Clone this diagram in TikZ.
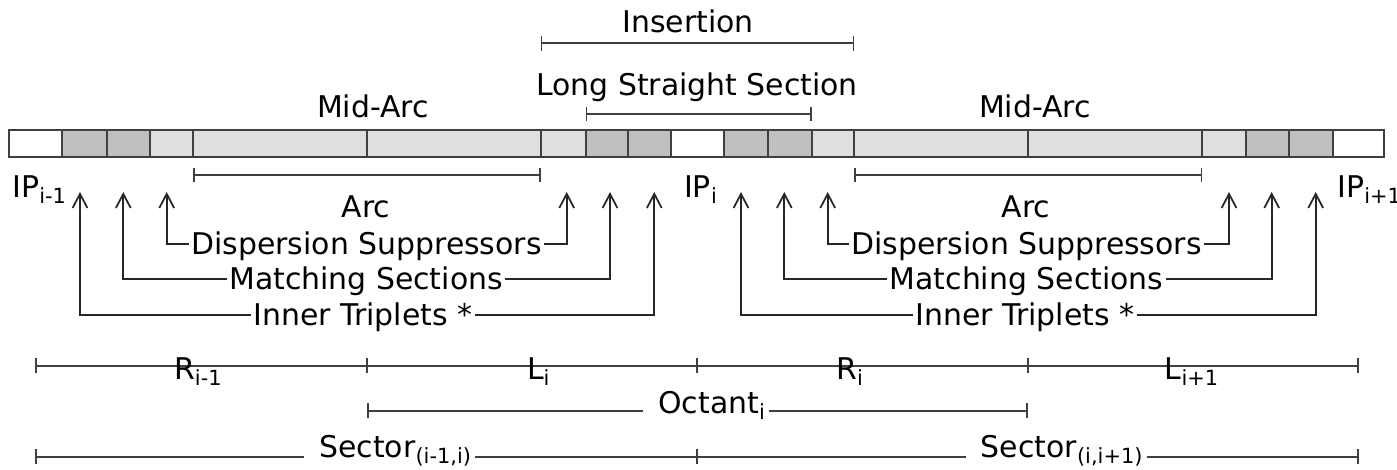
\documentclass[tikz,border=0pt]{standalone}
\usepackage{fontspec}
\setmainfont{DejaVu Sans}
\usetikzlibrary{arrows.meta,calc}
\definecolor{segdark}{HTML}{C0C0C0}
\definecolor{seglight}{HTML}{DFDFDF}
\definecolor{edgecol}{HTML}{404040}
\tikzset{
  seg/.style={draw=edgecol, line width=0.6pt, minimum height=7.54pt, inner sep=0pt, outer sep=0pt},
  lbl/.style={font=\fontsize{8.5}{10}\selectfont, inner sep=0.5pt, text height=6.1pt, text depth=0pt},
  dim/.style={draw=edgecol, line width=0.5pt, {Bar[width=4.2pt]}-{Bar[width=4.2pt]}},
  dimL/.style={draw=edgecol, line width=0.5pt, {Bar[width=4.2pt]}-},
  dimR/.style={draw=edgecol, line width=0.5pt, -{Bar[width=4.2pt]}},
  tickln/.style={draw=edgecol, line width=0.5pt},
  arr/.style={draw=black!85, line width=0.5pt, -{Straight Barb[length=4pt,width=4.2pt]}}
}
\begin{document}
\begin{tikzpicture}[x=0.01cm,y=-0.01cm]
\useasboundingbox (0,0) rectangle (1397,469);
% bar segments
\foreach \n/\a/\b/\c in {1/9.3/61.7/white, 2/61.7/106.7/segdark, 3/106.7/150/segdark, 4/150/193.3/seglight,
  5/193.3/367.3/seglight, 6/367.3/540.7/seglight, 7/540.7/585.7/seglight, 8/585.7/627.7/segdark,
  9/627.7/671/segdark, 10/671/724/white, 11/724/768/segdark, 12/768/811.7/segdark,
  13/811.7/854.3/seglight, 14/854.3/1028.3/seglight, 15/1028.3/1202.3/seglight, 16/1202.3/1245.7/seglight,
  17/1245.7/1289/segdark, 18/1289/1332.7/segdark, 19/1332.7/1384.3/white}{
  \pgfmathsetmacro\w{(\b-\a)*0.284528}
  \pgfmathsetmacro\m{(\a+\b)/2}
  \node[seg, fill=\c, minimum width=\w pt] (s\n) at (\m,143.5) {};
}
% top labels and brackets
\node[lbl] (ins) at (688,21.5) {Insertion};
\coordinate (yins) at (0,43.3);
\draw[dim] (s7.west |- yins) -- (s13.east |- yins);
\node[lbl] (lss) at (697,84.5) {Long Straight Section};
\coordinate (ylss) at (0,114);
\draw[dim] (s8.west |- ylss) -- (s12.east |- ylss);
\node[lbl] (mid1) at (373,107) {Mid-Arc};
\node[lbl] (mid2) at (1035,107) {Mid-Arc};
% arc brackets
\coordinate (yarc) at (0,175);
\draw[dim] (s5.west |- yarc) -- (s6.east |- yarc);
\draw[dim] (s14.west |- yarc) -- (s15.east |- yarc);
% IP labels
\node[lbl, anchor=west] (ip1) at (10,186.5) {IP\textsubscript{i-1}};
\node[lbl, anchor=west] (ip2) at (681.7,186.5) {IP\textsubscript{i}};
\node[lbl, anchor=west] (ip3) at (1335,186.5) {IP\textsubscript{i+1}};
% arc labels
\node[lbl] (arc1) at (366,207) {Arc};
\node[lbl] (arc2) at (1026,207) {Arc};
% arrow groups
\node[lbl] (ds1) at (366.5,244) {Dispersion Suppressors};
\node[lbl] (ms1) at (366,279) {Matching Sections};
\node[lbl] (it1) at (363,315) {Inner Triplets *};
\node[lbl] (ds2) at (1026.5,244) {Dispersion Suppressors};
\node[lbl] (ms2) at (1026.5,279) {Matching Sections};
\node[lbl] (it2) at (1025,315) {Inner Triplets *};
\coordinate (ta) at (80,192);
\coordinate (ma) at (123.3,192);
\coordinate (da) at (166.7,192);
\coordinate (db) at (566.7,192);
\coordinate (mb) at (610,192);
\coordinate (tb) at (654.3,192);
\coordinate (tc) at (741,192);
\coordinate (mc) at (784.3,192);
\coordinate (dc) at (827.7,192);
\coordinate (dd) at (1229,192);
\coordinate (md) at (1271.7,192);
\coordinate (td) at (1315.7,192);
\draw[arr] (ds1.west) -| (da);
\draw[arr] (ds1.east) -| (db);
\draw[arr] (ms1.west) -| (ma);
\draw[arr] (ms1.east) -| (mb);
\draw[arr] (it1.west) -| (ta);
\draw[arr] (it1.east) -| (tb);
\draw[arr] (ds2.west) -| (dc);
\draw[arr] (ds2.east) -| (dd);
\draw[arr] (ms2.west) -| (mc);
\draw[arr] (ms2.east) -| (md);
\draw[arr] (it2.west) -| (tc);
\draw[arr] (it2.east) -| (td);
% R/L line
\coordinate (b1) at (35,365.7);
\coordinate (b2) at (367,365.7);
\coordinate (b3) at (697,365.7);
\coordinate (b4) at (1028,365.7);
\coordinate (b5) at (1359,365.7);
\draw[dim] (b1) -- (b5);
\foreach \p in {b2,b3,b4}{
  \draw[tickln] ($(\p)+(0,-7.4)$) -- ($(\p)+(0,7.4)$);
}
\node[lbl, anchor=west] (r1) at (171.7,369) {R\textsubscript{i-1}};
\node[lbl, anchor=west] (l1) at (524.6,369) {L\textsubscript{i}};
\node[lbl, anchor=west] (r2) at (834,369) {R\textsubscript{i}};
\node[lbl, anchor=west] (l2) at (1162.5,369) {L\textsubscript{i+1}};
% octant
\coordinate (o1) at (367,410.7);
\coordinate (o2) at (1028,410.7);
\node[lbl, anchor=west] (oct) at (656,403) {Octant\textsubscript{i}};
\draw[dimL] (o1) -- ($(oct.west |- o1)+(-13,0)$);
\draw[dimR] (oct.east |- o2) -- (o2);
% sectors
\coordinate (q1) at (35,456.7);
\coordinate (q2) at (697,456.7);
\coordinate (q3) at (1359,456.7);
\node[lbl, anchor=west] (sec1) at (317,447) {Sector\textsubscript{(i-1,i)}};
\node[lbl, anchor=west] (sec2) at (978.5,447) {Sector\textsubscript{(i,i+1)}};
\draw[dimL] (q1) -- ($(sec1.west |- q1)+(-13,0)$);
\draw[tickln] (sec1.east |- q1) -- ($(sec2.west |- q2)+(-13,0)$);
\draw[tickln] ($(q2)+(0,-7.4)$) -- ($(q2)+(0,7.4)$);
\draw[dimR] (sec2.east |- q3) -- (q3);
\end{tikzpicture}
\end{document}
